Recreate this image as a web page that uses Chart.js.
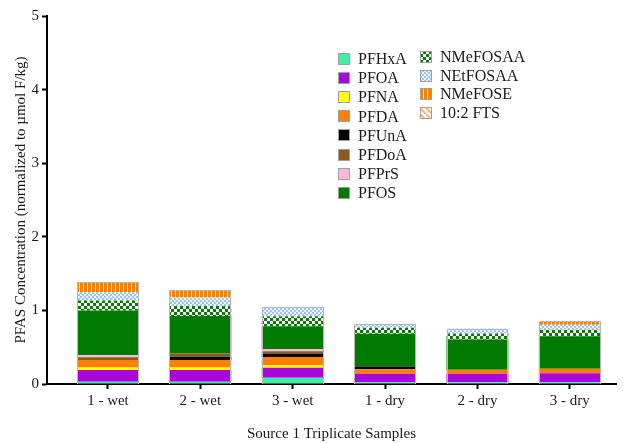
<!DOCTYPE html>
<html>
<head>
<meta charset="utf-8">
<script src="https://cdn.jsdelivr.net/npm/chart.js@4/dist/chart.umd.min.js"></script>
<style>
  html, body { margin: 0; padding: 0; background: #fff; }
  #wrap { width: 632px; height: 443px; }
</style>
</head>
<body>
<div id="wrap"><canvas id="c" width="632" height="443"></canvas></div>
<script>
// Sample groups along the x axis
const categories = ['1 - wet', '2 - wet', '3 - wet', '1 - dry', '2 - dry', '3 - dry'];

// Per-compound concentrations (µmol F/kg), bottom of stack first
const PFHxA    = [0.030, 0.030, 0.085, 0.025, 0.025, 0.025];
const PFOA     = [0.160, 0.160, 0.136, 0.114, 0.114, 0.122];
const PFNA     = [0.035, 0.035, 0.035, 0.000, 0.000, 0.000];
const PFDA     = [0.100, 0.100, 0.110, 0.063, 0.054, 0.060];
const PFUnA    = [0.000, 0.045, 0.045, 0.036, 0.000, 0.000];
const PFDoA    = [0.040, 0.045, 0.035, 0.000, 0.000, 0.000];
const PFPrS    = [0.025, 0.000, 0.030, 0.000, 0.000, 0.000];
const PFOS     = [0.610, 0.510, 0.310, 0.445, 0.410, 0.443];
const NMeFOSAA = [0.136, 0.136, 0.136, 0.082, 0.082, 0.087];
const NEtFOSAA = [0.113, 0.114, 0.120, 0.055, 0.068, 0.068];
const NMeFOSE  = [0.136, 0.100, 0.000, 0.000, 0.000, 0.045];
const FTS102   = [0.000, 0.000, 0.000, 0.000, 0.000, 0.000];

// Y axis ticks
const yTicks = [0, 1, 2, 3, 4, 5];

const SERIF = "'Liberation Serif', 'Times New Roman', serif";

// ---- fill patterns ----
function makePattern(w, h, paint) {
  const c = document.createElement('canvas');
  c.width = w; c.height = h;
  const g = c.getContext('2d');
  paint(g, w, h);
  return g.createPattern(c, 'repeat');
}
const checkerGreen = makePattern(6, 6, (g) => {
  g.fillStyle = '#ffffff'; g.fillRect(0, 0, 6, 6);
  g.fillStyle = '#0a7a0a'; g.fillRect(0, 0, 3, 3); g.fillRect(3, 3, 3, 3);
});
const checkerBlue = makePattern(4, 4, (g) => {
  g.fillStyle = '#eef5ff'; g.fillRect(0, 0, 4, 4);
  g.fillStyle = '#9cc6f5'; g.fillRect(0, 0, 2, 2); g.fillRect(2, 2, 2, 2);
});
const stripesOrange = makePattern(4, 4, (g) => {
  g.fillStyle = '#ffffff'; g.fillRect(0, 0, 4, 4);
  g.fillStyle = '#ff8000'; g.fillRect(0, 0, 3, 4);
});
const diagOrange = makePattern(6, 6, (g) => {
  g.fillStyle = '#ffffff'; g.fillRect(0, 0, 6, 6);
  g.strokeStyle = '#ffb472'; g.lineWidth = 2;
  for (let k = -6; k <= 12; k += 6) {
    g.beginPath(); g.moveTo(k, 0); g.lineTo(k + 6, 6); g.stroke();
  }
});

const series = [
  ['PFHxA', PFHxA, '#3ef0a6'],
  ['PFOA', PFOA, '#a806dc'],
  ['PFNA', PFNA, '#ffff00'],
  ['PFDA', PFDA, '#ff8000'],
  ['PFUnA', PFUnA, '#000000'],
  ['PFDoA', PFDoA, '#8c5a1e'],
  ['PFPrS', PFPrS, '#ffb8dc'],
  ['PFOS', PFOS, '#007a00'],
  ['NMeFOSAA', NMeFOSAA, checkerGreen],
  ['NEtFOSAA', NEtFOSAA, checkerBlue],
  ['NMeFOSE', NMeFOSE, stripesOrange],
  ['10:2 FTS', FTS102, diagOrange]
];

const datasets = series.map(([label, vals, fill]) => ({
  label,
  data: vals.map((v, i) => ({ x: i + 1, y: v })),
  backgroundColor: fill,
  borderWidth: 0,
  stack: 's'
}));

// Thin grey outline around each complete stack
const stackOutline = {
  id: 'stackOutline',
  afterDatasetsDraw(chart) {
    const ctx = chart.ctx;
    const yS = chart.scales.y;
    const meta = chart.getDatasetMeta(0);
    ctx.save();
    ctx.strokeStyle = '#b8b8b8';
    ctx.lineWidth = 1;
    categories.forEach((_, i) => {
      const total = series.reduce((s, d) => s + d[1][i], 0);
      const bar = meta.data[i];
      const half = bar.width / 2;
      const top = Math.round(yS.getPixelForValue(total)) + 0.5;
      const bot = yS.getPixelForValue(0);
      const l = Math.round(bar.x - half) + 0.5, r = Math.round(bar.x + half) - 0.5;
      ctx.beginPath();
      ctx.moveTo(l, bot); ctx.lineTo(l, top); ctx.lineTo(r, top); ctx.lineTo(r, bot);
      ctx.stroke();
    });
    ctx.restore();
  }
};

// Two-column legend inside the plot
const sideLegend = {
  id: 'sideLegend',
  afterDraw(chart) {
    const ctx = chart.ctx;
    const cols = [
      { x: 338, y0: 59, step: 19.1, from: 0, to: 8 },
      { x: 420, y0: 57, step: 18.6, from: 8, to: 12 }
    ];
    ctx.save();
    ctx.font = '16px ' + SERIF;
    ctx.textBaseline = 'middle';
    ctx.textAlign = 'left';
    cols.forEach(col => {
      for (let k = col.from; k < col.to; k++) {
        const ds = chart.data.datasets[k];
        const cy = col.y0 + (k - col.from) * col.step;
        const bx = col.x, by = Math.round(cy - 6);
        ctx.fillStyle = ds.backgroundColor;
        ctx.fillRect(bx, by, 12, 12);
        ctx.strokeStyle = '#a0a0a0';
        ctx.lineWidth = 1;
        ctx.strokeRect(bx + 0.5, by + 0.5, 11, 11);
        ctx.fillStyle = '#1a1a1a';
        ctx.fillText(ds.label, bx + 20, cy + 1);
      }
    });
    ctx.restore();
  }
};

new Chart(document.getElementById('c'), {
  type: 'bar',
  data: { datasets },
  options: {
    responsive: false,
    animation: false,
    layout: { padding: { top: 16, right: 16, bottom: 0, left: 0 } },
    datasets: { bar: { barPercentage: 0.67, categoryPercentage: 1.0 } },
    plugins: { legend: { display: false }, tooltip: { enabled: false } },
    scales: {
      x: {
        type: 'linear',
        stacked: true,
        offset: false,
        min: 0.34,
        max: 6.5,
        afterBuildTicks: s => { s.ticks = categories.map((_, i) => ({ value: i + 1 })); },
        afterFit: s => { s.height = 59; },
        grid: { display: true, offset: false, drawOnChartArea: false, drawTicks: true, tickLength: 5, tickWidth: 2, color: '#000' },
        border: { display: true, color: '#000', width: 2 },
        ticks: {
          callback: v => categories[v - 1],
          font: { family: SERIF, size: 15 },
          color: '#1a1a1a',
          padding: 3,
          maxRotation: 0
        },
        title: {
          display: true,
          text: 'Source 1 Triplicate Samples',
          font: { family: SERIF, size: 15 },
          color: '#1a1a1a',
          padding: { top: 0, bottom: 0 }
        }
      },
      y: {
        stacked: true,
        min: 0,
        max: 5,
        afterBuildTicks: s => { s.ticks = yTicks.map(v => ({ value: v })); },
        afterFit: s => { s.width = 47; },
        grid: { display: true, drawOnChartArea: false, drawTicks: true, tickLength: 5, tickWidth: 2, color: '#000' },
        border: { display: true, color: '#000', width: 2 },
        ticks: {
          font: { family: SERIF, size: 15 },
          color: '#1a1a1a',
          padding: 3
        },
        title: {
          display: true,
          text: 'PFAS Concentration (normalized to µmol F/kg)',
          font: { family: SERIF, size: 15 },
          color: '#1a1a1a',
          padding: { top: 12, bottom: 0 }
        }
      }
    }
  },
  plugins: [stackOutline, sideLegend]
});
</script>
</body>
</html>
